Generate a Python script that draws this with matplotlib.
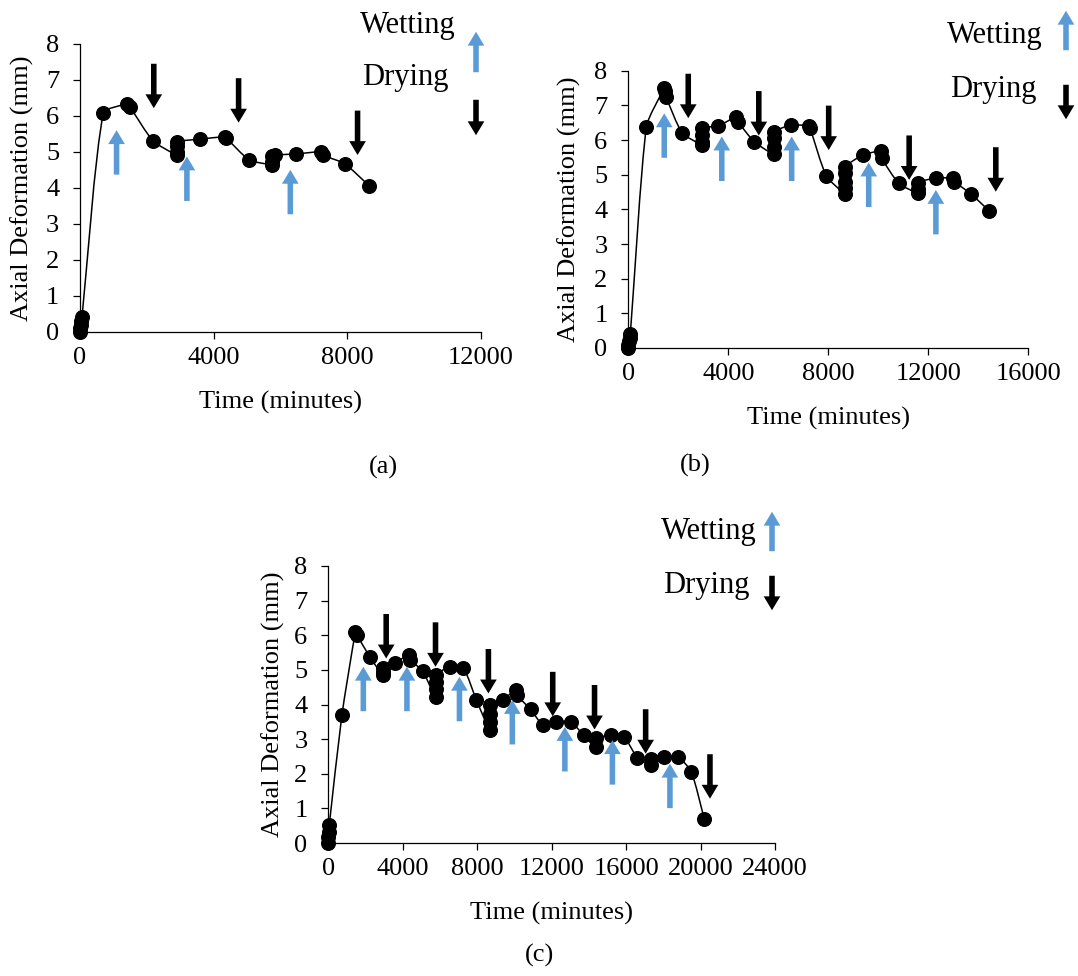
import matplotlib
matplotlib.use("Agg")
import numpy as np
import matplotlib.pyplot as plt
from matplotlib.path import Path
from matplotlib.patches import PathPatch, FancyArrowPatch

plt.rcParams['font.family'] = ['Liberation Serif', 'DejaVu Serif']
plt.rcParams['font.size'] = 19

W, H = 1078, 976
BLUE = '#5B9BD5'

# (a) first specimen
a_time = [0, 10, 20, 40, 60, 700, 1420, 1500, 2180, 2890, 2890, 2890, 2890,
          3590, 4330, 4380, 5060, 5760, 5760, 5760, 5840, 6460, 7200, 7260,
          7920, 8650]
a_def = [0.0, 0.1, 0.2, 0.3, 0.42, 6.07, 6.33, 6.24, 5.31, 4.91, 5.0, 5.15, 5.28,
         5.35, 5.42, 5.38, 4.78, 4.64, 4.73, 4.87, 4.91, 4.94, 5.0, 4.91,
         4.67, 4.06]
a_wet_x = [1094, 3199, 6294]
a_wet_y = [5.6, 4.87, 4.5]
a_dry_x = [2208, 4746, 8306]
a_dry_y = [6.21, 5.81, 4.91]

# (b) second specimen
b_time = [0, 0, 20, 50, 80, 726, 1438, 1466, 1507, 2151, 2945, 2945, 2945, 2945,
          3603, 4315, 4384, 5041, 5822, 5822, 5822, 5822, 6508, 7234, 7275,
          7919, 8672, 8672, 8672, 8672, 8672, 9385, 10097, 10138, 10823,
          11577, 11577, 11577, 12289, 12988, 13042, 13700, 14426]
b_def = [0.0, 0.1, 0.2, 0.3, 0.4, 6.39, 7.49, 7.4, 7.25, 6.21, 5.86, 5.95, 6.15, 6.34,
         6.41, 6.66, 6.53, 5.95, 5.6, 5.81, 6.05, 6.24, 6.43, 6.41, 6.34,
         4.97, 4.45, 4.61, 4.8, 5.04, 5.23, 5.57, 5.67, 5.47, 4.75,
         4.47, 4.58, 4.77, 4.9, 4.9, 4.8, 4.45, 3.96]
b_wet_x = [1438, 3740, 6535, 9617, 12303]
b_wet_y = [6.77, 6.1, 6.1, 5.35, 4.56]
b_dry_x = [2398, 5220, 8015, 11234, 14700]
b_dry_y = [6.63, 6.13, 5.71, 4.85, 4.51]

# (c) third specimen
c_time = [0, 0, 20, 50, 730, 1459, 1536, 2227, 2918, 2918, 2918, 3610, 4339, 4416,
          5069, 5760, 5760, 5760, 5760, 6528, 7258, 7949, 8678, 8678, 8678, 8678,
          9408, 10080, 10138, 10867, 11558, 12250, 13018, 13728, 14400, 14400,
          15168, 15898, 16608, 17318, 17318, 18048, 18778, 19507, 20198]
c_def = [0.0, 0.17, 0.32, 0.51, 3.69, 6.1, 6.01, 5.38, 4.85, 4.95, 5.05, 5.21, 5.43, 5.28,
         4.97, 4.22, 4.46, 4.66, 4.85, 5.09, 5.04, 4.14, 3.26, 3.5, 3.74, 3.98,
         4.14, 4.43, 4.27, 3.86, 3.4, 3.5, 3.5, 3.11, 2.76, 3.02,
         3.11, 3.05, 2.46, 2.25, 2.44, 2.47, 2.49, 2.05, 0.7]
c_wet_x = [1882, 4224, 7046, 9888, 12710, 15264, 18355]
c_wet_y = [5.09, 5.09, 4.8, 4.13, 3.35, 2.97, 2.29]
c_dry_x = [3110, 5760, 8602, 12058, 14304, 17050, 20506]
c_dry_y = [5.33, 5.09, 4.32, 3.66, 3.28, 2.58, 1.28]

ARROW = 'simple,head_length=0.5,head_width=0.6,tail_width=0.2'


def smooth_path(t, d, sx, sy):
    # smoothed line through every point; tangents worked out in screen units
    # so that steep jumps do not overshoot
    p = np.column_stack([np.asarray(t, float) * sx, np.asarray(d, float) * sy])
    n = len(p)
    tang = np.zeros_like(p)
    for i in range(n):
        v = p[min(i + 1, n - 1)] - p[max(i - 1, 0)]
        norm = np.hypot(*v)
        if norm > 0:
            tang[i] = v / norm
    verts = [p[0]]
    codes = [Path.MOVETO]
    for i in range(n - 1):
        seg = np.hypot(*(p[i + 1] - p[i])) * 0.2
        verts += [p[i] + tang[i] * seg, p[i + 1] - tang[i + 1] * seg, p[i + 1]]
        codes += [Path.CURVE4] * 3
    verts = np.array(verts) / [sx, sy]
    return Path(verts, codes)


def arrow(ax, x, y, up, color):
    # short vertical arrow, tip at (x, y)
    dy = -32 if up else 32
    ax.annotate('', xy=(x, y), xytext=(0, dy), textcoords='offset points',
                annotation_clip=False,
                arrowprops=dict(arrowstyle=ARROW, mutation_scale=20, lw=0,
                                fc=color, ec='none', shrinkA=0, shrinkB=0))


def fig_arrow(fig, px, tail, tip, color):
    fig.add_artist(FancyArrowPatch(
        (px / W, 1 - tail / H), (px / W, 1 - tip / H), transform=fig.transFigure,
        arrowstyle=ARROW, mutation_scale=20, lw=0, fc=color, ec='none'))


def panel(fig, box, t, d, wx, wy, dx, dy, xmax, label_x):
    left, right, bottom, top = box
    ax = fig.add_axes([left / W, 1 - bottom / H, (right - left) / W, (bottom - top) / H])
    path = smooth_path(t, d, (right - left) / xmax, (bottom - top) / 8)
    ax.add_patch(PathPatch(path, fill=False, ec='black', lw=1.1, clip_on=False))
    ax.plot(t, d, ls='none', color='black', marker='o', ms=9.8, clip_on=False, zorder=3)
    for x, y in zip(wx, wy):
        arrow(ax, x, y, True, BLUE)
    for x, y in zip(dx, dy):
        arrow(ax, x, y, False, 'black')
    ax.set_xlim(0, xmax)
    ax.set_ylim(0, 8)
    ax.set_xticks(range(0, xmax + 1, 4000))
    ax.set_yticks(range(0, 9))
    for s in ['top', 'right']:
        ax.spines[s].set_visible(False)
    for s in ['left', 'bottom']:
        ax.spines[s].set_linewidth(0.9)
    ax.tick_params(axis='x', length=5, width=0.9, pad=6)
    ax.tick_params(axis='y', length=5, width=0.9, pad=10)
    ax.set_xlabel('Time (minutes)', va='center')
    ax.xaxis.set_label_coords(0.5, -70 / (bottom - top))
    ax.set_ylabel('Axial Deformation (mm)', va='center')
    ax.yaxis.set_label_coords(label_x, 0.5)
    return ax


fig = plt.figure(figsize=(W / 100, H / 100), dpi=100)

panel(fig, (80, 481, 332, 43.7), a_time, a_def, a_wet_x, a_wet_y, a_dry_x, a_dry_y,
      12000, -0.145)
panel(fig, (628.3, 1028.3, 348, 70.7), b_time, b_def, b_wet_x, b_wet_y, b_dry_x, b_dry_y,
      16000, -0.148)
panel(fig, (328.3, 775, 843, 566), c_time, c_def, c_wet_x, c_wet_y, c_dry_x, c_dry_y,
      24000, -0.124)

# wetting / drying keys
keys = [((408, 25), (405, 78), 476, (75, 29), (97, 138)),
        ((995, 35), (993, 90), 1066, (53, 8), (82, 122)),
        ((709, 532), (706, 586), 772, (554, 509), (573, 613))]
for wpos, dpos, ax_x, wet, dry in keys:
    fig.text(wpos[0] / W, 1 - wpos[1] / H, 'Wetting', fontsize=22, ha='center', va='center')
    fig.text(dpos[0] / W, 1 - dpos[1] / H, 'Drying', fontsize=22, ha='center', va='center')
    fig_arrow(fig, ax_x, wet[0], wet[1], BLUE)
    fig_arrow(fig, ax_x, dry[0], dry[1], 'black')

for txt, x, y in [('(a)', 383, 467), ('(b)', 695, 465), ('(c)', 540, 955)]:
    fig.text(x / W, 1 - y / H, txt, ha='center', va='center')

fig.savefig('out.png', dpi=100)
